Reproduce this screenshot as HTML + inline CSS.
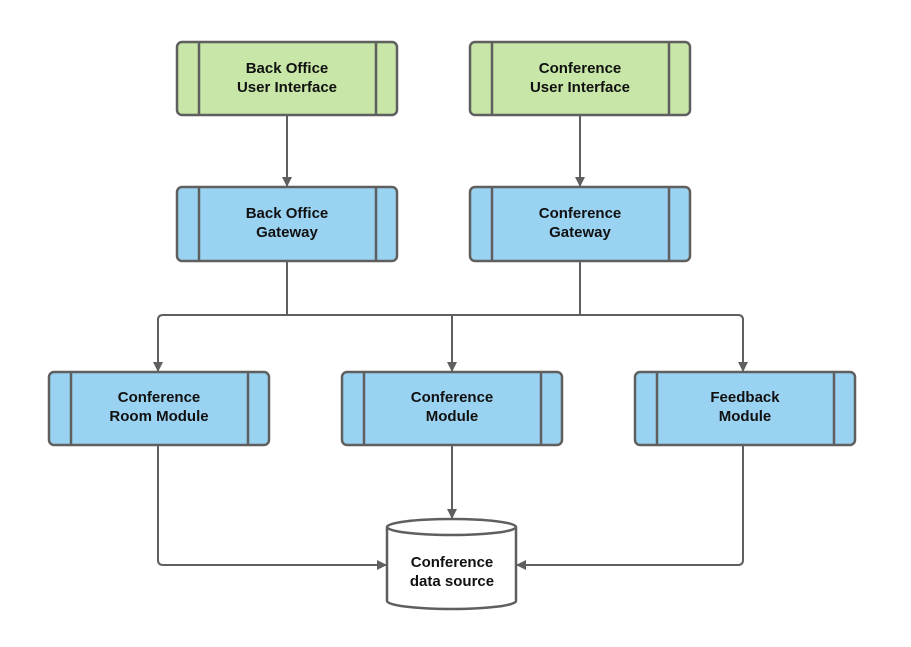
<!DOCTYPE html>
<html><head><style>body{margin:0;background:#fff}svg{display:block}</style></head><body>
<svg width="911" height="647" viewBox="0 0 911 647" xmlns="http://www.w3.org/2000/svg">
<defs><marker id="a" markerWidth="10" markerHeight="10" refX="9" refY="5" orient="auto" markerUnits="userSpaceOnUse"><path d="M0,0 L10,5 L0,10 z" fill="#5f5f5f"/></marker></defs>
<g stroke="#5f5f5f" stroke-width="2" fill="none">
<path d="M287 115 V186" marker-end="url(#a)"/>
<path d="M580 115 V186" marker-end="url(#a)"/>
<path d="M287 261 V315 M580 261 V315 M158 371 V320 Q158 315 163 315 H738 Q743 315 743 320"/>
<path d="M158 318 V371" marker-end="url(#a)"/>
<path d="M452 315 V371" marker-end="url(#a)"/>
<path d="M743 318 V371" marker-end="url(#a)"/>
<path d="M452 445 V518" marker-end="url(#a)"/>
<path d="M158 445 V560 Q158 565 163 565 H386" marker-end="url(#a)"/>
<path d="M743 445 V560 Q743 565 738 565 H517" marker-end="url(#a)"/>
</g>
<g stroke="#5f5f5f" stroke-width="2.5" font-family="Liberation Sans, sans-serif" font-weight="bold" font-size="15" text-anchor="middle">
<g fill="#c7e6a7"><rect x="177" y="42" width="220" height="73" rx="5"/><rect x="470" y="42" width="220" height="73" rx="5"/></g>
<g fill="#9ad2f2"><rect x="177" y="187" width="220" height="74" rx="5"/><rect x="470" y="187" width="220" height="74" rx="5"/>
<rect x="49" y="372" width="220" height="73" rx="5"/><rect x="342" y="372" width="220" height="73" rx="5"/><rect x="635" y="372" width="220" height="73" rx="5"/></g>
<path d="M199 42V115M376 42V115M492 42V115M669 42V115M199 187V261M376 187V261M492 187V261M669 187V261M71 372V445M248 372V445M364 372V445M541 372V445M657 372V445M834 372V445" fill="none"/>
<path d="M387 527 V601 A64.5 8 0 0 0 516 601 V527 A64.5 8 0 0 0 387 527 A64.5 8 0 0 0 516 527" fill="#fff"/>
<g stroke="none" fill="#111">
<text x="287" y="73">Back Office</text><text x="287" y="92">User Interface</text>
<text x="580" y="73">Conference</text><text x="580" y="92">User Interface</text>
<text x="287" y="218">Back Office</text><text x="287" y="237">Gateway</text>
<text x="580" y="218">Conference</text><text x="580" y="237">Gateway</text>
<text x="159" y="402">Conference</text><text x="159" y="421">Room Module</text>
<text x="452" y="402">Conference</text><text x="452" y="421">Module</text>
<text x="745" y="402">Feedback</text><text x="745" y="421">Module</text>
<text x="452" y="567">Conference</text><text x="452" y="586">data source</text>
</g></g>
</svg>
</body></html>
